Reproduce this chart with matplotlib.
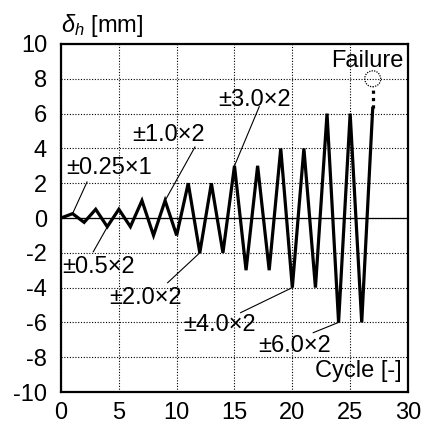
import matplotlib
matplotlib.use("Agg")
import matplotlib.pyplot as plt
from matplotlib.patches import Ellipse

plt.rcParams['font.family'] = ['Liberation Sans', 'DejaVu Sans']
plt.rcParams['mathtext.fontset'] = 'custom'
plt.rcParams['mathtext.rm'] = 'Liberation Sans'
plt.rcParams['mathtext.it'] = 'Liberation Sans:italic'
plt.rcParams['axes.unicode_minus'] = False

# Loading protocol: cycle number vs. horizontal displacement
cycle = [0, 1, 2, 3, 4, 5, 6, 7, 8, 9, 10, 11, 12, 13, 14, 15, 16, 17, 18,
         19, 20, 21, 22, 23, 24, 25, 26, 26.95]
disp = [0, 0.25, -0.25, 0.5, -0.5, 0.5, -0.5, 1.0, -1.0, 1.0, -1.0, 2.0, -2.0,
        2.0, -2.0, 3.0, -3.0, 3.0, -3.0, 4.0, -4.0, 4.0, -4.0, 6.0, -6.0, 6.0,
        -6.0, 6.3]
failure_x = 26.95
failure_y = 8.0

x_ticks = [0, 5, 10, 15, 20, 25, 30]
y_ticks = [-10, -8, -6, -4, -2, 0, 2, 4, 6, 8, 10]

# Amplitude labels: text, pointed point, text anchor, leader end
amp_labels = ["±0.25×1", "±0.5×2", "±1.0×2", "±2.0×2", "±3.0×2", "±4.0×2", "±6.0×2"]
amp_points = [(1, 0.25), (4.1, -0.4), (9, 1.0), (12, -2.0), (15, 3.0), (20, -4.0), (24, -6.0)]
amp_text_pos = [(0.45, 2.87), (0.1, -2.80), (6.15, 4.77), (4.17, -4.60),
                (13.6, 6.78), (10.55, -6.15), (17.07, -7.36)]
amp_line_end = [(2.25, 2.07), (2.79, -1.94), (11.58, 4.08), (9.22, -3.72),
                (17.14, 6.40), (15.53, -5.44), (21.81, -6.59)]

FS = 17

fig = plt.figure(figsize=(4.29, 4.28), dpi=100)
ax = fig.add_axes([0.1422, 0.0841, 0.951 - 0.1422, 0.8972 - 0.0841])

ax.set_xlim(0, 30)
ax.set_ylim(-10, 10)
ax.set_xticks(x_ticks)
ax.set_yticks(y_ticks)
ax.tick_params(length=0, labelsize=FS)
ax.tick_params(axis='y', pad=10)
ax.tick_params(axis='x', pad=7)
ax.grid(True, linestyle=(0, (1, 1.5)), color='black', linewidth=0.8)
for s in ax.spines.values():
    s.set_linewidth(1.6)

ax.axhline(0, color='black', linewidth=0.9, zorder=2)
ax.plot(cycle, disp, color='black', linewidth=2.3, zorder=3, solid_joinstyle='miter')

# Failure marker: dotted extension and dotted circle
ax.plot([failure_x, failure_x], [disp[-1], failure_y - 0.45], color='black',
        linewidth=2.3, linestyle=(0, (1, 1.3)), zorder=3)
ax.add_patch(Ellipse((failure_x, failure_y), 16 / 11.57, 16 / 17.4, fill=False,
                     linestyle=(0, (1, 1)), linewidth=0.9, edgecolor='black', zorder=4))

for lab, (px, py), (tx, ty), (lx, ly) in zip(amp_labels, amp_points, amp_text_pos, amp_line_end):
    ax.plot([px, lx], [py, ly], color='black', linewidth=0.8, zorder=4)
    ax.text(tx, ty, lab, fontsize=FS, ha='left', va='center', zorder=5)

ax.text(29.6, 9.0, "Failure", fontsize=FS, ha='right', va='center')
ax.text(29.45, -8.8, "Cycle [-]", fontsize=FS, ha='right', va='center')
ax.text(0.0, 1.015, r"$\delta_h$ [mm]", fontsize=FS, ha='left', va='bottom',
        transform=ax.transAxes)

fig.savefig("out.png", dpi=100)
